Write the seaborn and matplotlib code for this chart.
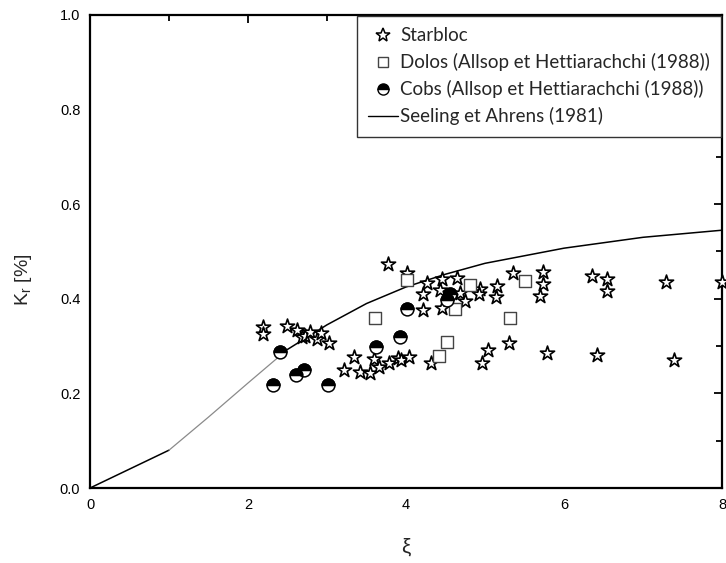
import matplotlib
matplotlib.use("Agg")
import matplotlib.pyplot as plt
import seaborn as sns
from matplotlib.lines import Line2D
from matplotlib.markers import MarkerStyle

# Starbloc measurements (xi, Kr)
star_x = [2.19, 2.19, 2.49, 2.62, 2.68, 2.72, 2.78, 2.87, 2.93, 3.02,
          3.21, 3.34, 3.42, 3.54, 3.59, 3.66, 3.79, 3.90, 3.94, 4.04, 4.32,
          3.77, 4.01, 4.22, 4.21, 4.27, 4.46, 4.43, 4.45, 4.64, 4.68, 4.75,
          4.94, 4.93, 5.15, 5.14, 5.35, 5.73, 5.73, 5.70, 6.35, 6.54, 6.55,
          7.29, 8.00,
          4.96, 5.04, 5.30, 5.79, 6.42, 7.39]
star_y = [0.341, 0.325, 0.342, 0.334, 0.320, 0.321, 0.330, 0.314, 0.327, 0.306,
          0.249, 0.276, 0.246, 0.244, 0.272, 0.256, 0.265, 0.274, 0.270, 0.276, 0.264,
          0.474, 0.454, 0.410, 0.376, 0.434, 0.441, 0.419, 0.381, 0.445, 0.412, 0.395,
          0.420, 0.410, 0.426, 0.404, 0.454, 0.457, 0.431, 0.406, 0.449, 0.441, 0.416,
          0.436, 0.435,
          0.265, 0.292, 0.307, 0.286, 0.281, 0.271]

# Dolos (Allsop et Hettiarachchi 1988)
dolos_x = [3.61, 4.01, 4.42, 4.52, 4.62, 4.81, 5.32, 5.51]
dolos_y = [0.359, 0.440, 0.279, 0.308, 0.378, 0.429, 0.359, 0.438]

# Cobs (Allsop et Hettiarachchi 1988)
cobs_x = [2.41, 2.31, 2.61, 2.71, 3.01, 3.62, 3.92, 4.01, 4.56, 4.52]
cobs_y = [0.288, 0.218, 0.239, 0.249, 0.218, 0.299, 0.319, 0.378, 0.410, 0.398]

# Seeling et Ahrens (1981)
seel_x = [0, 1, 1.5, 2, 2.5, 3, 3.5, 4, 4.5, 5, 6, 7, 8]
seel_y = [0, 0.08, 0.15, 0.222, 0.293, 0.345, 0.39, 0.425, 0.452, 0.475, 0.507, 0.53, 0.545]

x_ticks = [0, 2, 4, 6, 8]
y_ticks = [0.0, 0.2, 0.4, 0.6, 0.8, 1.0]

sns.set_style("white")
plt.rcParams['font.family'] = ['Liberation Sans', 'DejaVu Sans']
plt.rcParams['mathtext.fontset'] = 'custom'
plt.rcParams['mathtext.rm'] = 'Liberation Sans'

fig = plt.figure(figsize=(7.26, 5.63), dpi=100)
ax = fig.add_axes([0.124, 0.1332, 0.8705, 0.8402])

# the scanned curve looks lighter between xi=1 and xi=2.5
for a, b, col, w in [(0, 2, 'black', 1.1), (1, 5, '#8a8a8a', 0.9), (4, len(seel_x), 'black', 1.1)]:
    sns.lineplot(x=seel_x[a:b], y=seel_y[a:b], ax=ax, color=col, lw=w,
                 estimator=None, sort=False, legend=False)

sns.scatterplot(x=star_x, y=star_y, ax=ax, marker='*', s=115,
                facecolor='white', edgecolor='black', linewidth=1.2,
                legend=False, zorder=3, clip_on=False)
sns.scatterplot(x=dolos_x, y=dolos_y, ax=ax, marker='s', s=75,
                facecolor='white', edgecolor='#444444', linewidth=1.0,
                legend=False, zorder=3)
# half filled circles: white circle under a filled top half
sns.scatterplot(x=cobs_x, y=cobs_y, ax=ax, marker='o', s=85,
                facecolor='white', edgecolor='black', linewidth=1.1,
                legend=False, zorder=4)
sns.scatterplot(x=cobs_x, y=cobs_y, ax=ax, marker=MarkerStyle('o', fillstyle='top'), s=85,
                color='black', edgecolor='black', linewidth=1.1,
                legend=False, zorder=5)

ax.set_xlim(0, 8)
ax.set_ylim(0, 1.0)
ax.set_xticks(x_ticks)
ax.set_xticklabels([str(v) for v in x_ticks])
ax.set_xticks([1, 3, 5, 7], minor=True)
ax.set_yticks(y_ticks)
ax.set_yticklabels(['%.1f' % v for v in y_ticks])
ax.set_yticks([0.1, 0.3, 0.5, 0.7, 0.9], minor=True)
ax.tick_params(which='both', direction='in', top=True, right=True,
               width=1.3, labelsize=10.5, pad=7, colors='black')
ax.tick_params(which='major', length=6)
ax.tick_params(which='minor', length=4)
for sp in ax.spines.values():
    sp.set_linewidth(1.6)
    sp.set_color('black')

ax.set_xlabel('\u03be', fontsize=15)
ax.xaxis.set_label_coords(0.5, -0.105)
ax.set_ylabel(r'K$_\mathregular{r}$ [%]', fontsize=14)
ax.yaxis.set_label_coords(-0.088, 0.44)

handles = [
    Line2D([], [], ls='', marker='*', ms=10, mfc='white', mec='black', mew=1.1),
    Line2D([], [], ls='', marker='s', ms=7.5, mfc='white', mec='#444444', mew=1.0),
    Line2D([], [], ls='', marker='o', ms=8, fillstyle='top', mfc='black',
           markerfacecoloralt='white', mec='black', mew=1.0),
    Line2D([], [], color='black', lw=1.0),
]
labels = ['Starbloc', 'Dolos (Allsop et Hettiarachchi (1988))',
          'Cobs (Allsop et Hettiarachchi (1988))', 'Seeling et Ahrens (1981)']
leg = ax.legend(handles, labels, loc='upper right', bbox_to_anchor=(1.0, 1.0),
                borderaxespad=0.05, fancybox=False, framealpha=1, edgecolor='#333333',
                handlelength=1.6, handletextpad=0.1, borderpad=0.6, labelspacing=0.48,
                prop={'family': 'Lato', 'size': 13.5})
leg.get_frame().set_linewidth(1.0)

fig.savefig('out.png', dpi=100, facecolor='white')
